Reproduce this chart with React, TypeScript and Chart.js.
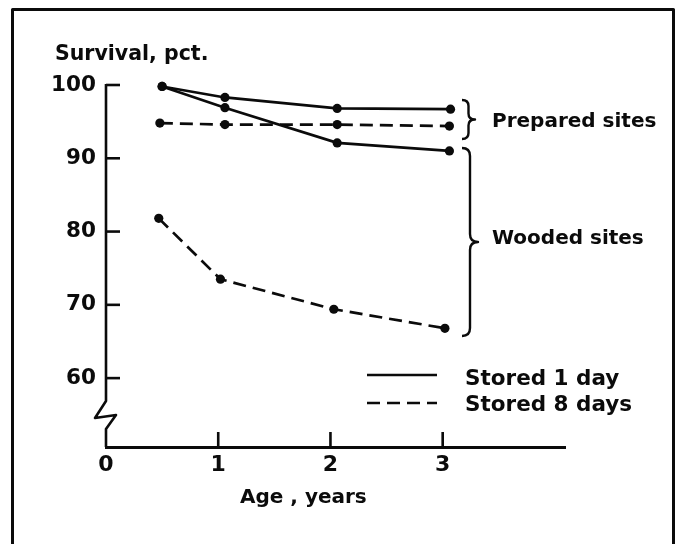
import React, { useEffect, useRef } from "react";
import { Chart, registerables } from "chart.js";

Chart.register(...registerables);

// ---- data ----
const seriesNames = [
  "Prepared sites, stored 1 day",
  "Wooded sites, stored 1 day",
  "Prepared sites, stored 8 days",
  "Wooded sites, stored 8 days",
];
const preparedDay1Ages = [0.5, 1.06, 2.06, 3.07];
const preparedDay1Survival = [99.8, 98.3, 96.8, 96.7];
const woodedDay1Ages = [0.5, 1.06, 2.06, 3.06];
const woodedDay1Survival = [99.8, 96.9, 92.1, 91.0];
const preparedDay8Ages = [0.48, 1.06, 2.06, 3.06];
const preparedDay8Survival = [94.8, 94.6, 94.6, 94.4];
const woodedDay8Ages = [0.47, 1.02, 2.03, 3.02];
const woodedDay8Survival = [81.8, 73.5, 69.4, 66.8];

const xTickValues = [0, 1, 2, 3];
const yTickValues = [60, 70, 80, 90, 100];
const yAxisTitle = "Survival, pct.";
const xAxisTitle = "Age , years";
const groupLabels = ["Prepared sites", "Wooded sites"];
const legendLabels = ["Stored 1 day", "Stored 8 days"];

const INK = "#0b0b0b";
const FONT = "'DejaVu Sans', 'Liberation Sans', sans-serif";
const DASH = [13, 7];

const toPoints = (xs: number[], ys: number[]) => xs.map((x, i) => ({ x, y: ys[i] }));

function drawBrace(ctx: CanvasRenderingContext2D, x: number, yTop: number, yBot: number, w: number, r: number) {
  const x1 = x + w * 0.5;
  const x2 = x + w;
  const ym = (yTop + yBot) / 2;
  ctx.beginPath();
  ctx.moveTo(x, yTop);
  ctx.quadraticCurveTo(x1, yTop, x1, yTop + r);
  ctx.lineTo(x1, ym - r);
  ctx.quadraticCurveTo(x1, ym, x2, ym);
  ctx.quadraticCurveTo(x1, ym, x1, ym + r);
  ctx.lineTo(x1, yBot - r);
  ctx.quadraticCurveTo(x1, yBot, x, yBot);
  ctx.stroke();
}

function text(ctx: CanvasRenderingContext2D, s: string, x: number, y: number, size: number, spacing: number) {
  ctx.font = `bold ${size}px ${FONT}`;
  (ctx as any).letterSpacing = `${spacing}px`;
  ctx.textAlign = "left";
  ctx.textBaseline = "alphabetic";
  ctx.fillText(s, x, y);
  (ctx as any).letterSpacing = "0px";
}

const decor = {
  id: "decor",
  afterDraw(chart: any) {
    const { ctx, chartArea: ca, scales } = chart;
    const xs = scales.x;
    const ys = scales.y;
    ctx.save();
    ctx.strokeStyle = INK;
    ctx.fillStyle = INK;
    ctx.lineCap = "butt";
    ctx.lineJoin = "round";

    // outer frame
    ctx.lineWidth = 3;
    ctx.beginPath();
    ctx.moveTo(12.5, 560);
    ctx.lineTo(12.5, 9.5);
    ctx.lineTo(673.5, 9.5);
    ctx.lineTo(673.5, 560);
    ctx.stroke();

    // y axis with break
    const ax = ca.left;
    ctx.lineWidth = 2.6;
    ctx.beginPath();
    ctx.moveTo(ax, ys.getPixelForValue(100) - 1);
    ctx.lineTo(ax, 401);
    ctx.lineTo(ax - 11, 418);
    ctx.lineTo(ax + 10, 415);
    ctx.lineTo(ax, 429);
    ctx.lineTo(ax, ca.bottom);
    ctx.stroke();

    // inward tick marks
    yTickValues.forEach((v) => {
      const y = ys.getPixelForValue(v);
      ctx.beginPath();
      ctx.moveTo(ax, y);
      ctx.lineTo(ax + 14, y);
      ctx.stroke();
    });
    xTickValues.filter((v) => v > 0).forEach((v) => {
      const x = xs.getPixelForValue(v);
      ctx.beginPath();
      ctx.moveTo(x, ca.bottom);
      ctx.lineTo(x, ca.bottom - 15);
      ctx.stroke();
    });

    // braces
    ctx.lineWidth = 2.4;
    drawBrace(ctx, 462, 100, 139, 13, 6);
    drawBrace(ctx, 462, 148, 336, 16, 8);

    // texts
    text(ctx, yAxisTitle, 55, 60, 20.5, 0);
    text(ctx, xAxisTitle, 240, 503, 20, 0);
    text(ctx, groupLabels[0], 492, 127, 20, 0);
    text(ctx, groupLabels[1], 492, 244, 20, 0);

    // legend
    const entries = [
      { ds: chart.data.datasets[0], y: 375, base: 385, label: legendLabels[0] },
      { ds: chart.data.datasets[2], y: 403, base: 411, label: legendLabels[1] },
    ];
    entries.forEach((e) => {
      ctx.lineWidth = e.ds.borderWidth;
      ctx.setLineDash(e.ds.borderDash || []);
      ctx.beginPath();
      ctx.moveTo(367, e.y);
      ctx.lineTo(437, e.y);
      ctx.stroke();
      ctx.setLineDash([]);
      text(ctx, e.label, 465, e.base, 21.5, 0);
    });

    ctx.restore();
  },
};

function makeDataset(label: string, xs: number[], ys: number[], dashed: boolean) {
  return {
    label,
    data: toPoints(xs, ys),
    borderColor: INK,
    backgroundColor: INK,
    borderWidth: 2.7,
    borderDash: dashed ? DASH : [],
    pointRadius: 4.6,
    pointBackgroundColor: INK,
    pointBorderWidth: 0,
    tension: 0,
    clip: false,
  };
}

export default function App() {
  const ref = useRef<HTMLCanvasElement | null>(null);
  useEffect(() => {
    if (!ref.current) return;
    const chart = new Chart(ref.current, {
      type: "line",
      data: {
        datasets: [
          makeDataset(seriesNames[0], preparedDay1Ages, preparedDay1Survival, false),
          makeDataset(seriesNames[1], woodedDay1Ages, woodedDay1Survival, false),
          makeDataset(seriesNames[2], preparedDay8Ages, preparedDay8Survival, true),
          makeDataset(seriesNames[3], woodedDay8Ages, woodedDay8Survival, true),
        ] as any,
      },
      options: {
        responsive: false,
        animation: false,
        devicePixelRatio: 1,
        layout: { padding: { left: 0, top: 85, right: 121, bottom: 57 } },
        plugins: {
          legend: { display: false },
          tooltip: { enabled: false },
          title: { display: false },
        },
        scales: {
          x: {
            type: "linear",
            min: 0,
            max: 4.09,
            afterFit: (s: any) => {
              s.height = 40;
            },
            afterBuildTicks: (s: any) => {
              s.ticks = xTickValues.map((v) => ({ value: v }));
            },
            grid: { display: false, drawTicks: false },
            border: { display: true, color: INK, width: 3 },
            ticks: {
              color: INK,
              font: { family: FONT, size: 22, weight: "bold" },
              padding: 5,
              maxRotation: 0,
              autoSkip: false,
            },
          },
          y: {
            type: "linear",
            min: 50.6,
            max: 100,
            afterFit: (s: any) => {
              s.width = 106;
            },
            afterBuildTicks: (s: any) => {
              s.ticks = yTickValues.map((v) => ({ value: v }));
            },
            grid: { display: false, drawTicks: false },
            border: { display: false },
            ticks: {
              color: INK,
              font: { family: FONT, size: 21.5, weight: "bold" },
              padding: 10,
              autoSkip: false,
            },
          },
        },
      } as any,
      plugins: [decor],
    });
    return () => chart.destroy();
  }, []);

  return (
    <div style={{ position: "absolute", left: 0, top: 0, width: 686, height: 544, background: "#fff" }}>
      <canvas ref={ref} width={686} height={544} style={{ display: "block" }} />
    </div>
  );
}
